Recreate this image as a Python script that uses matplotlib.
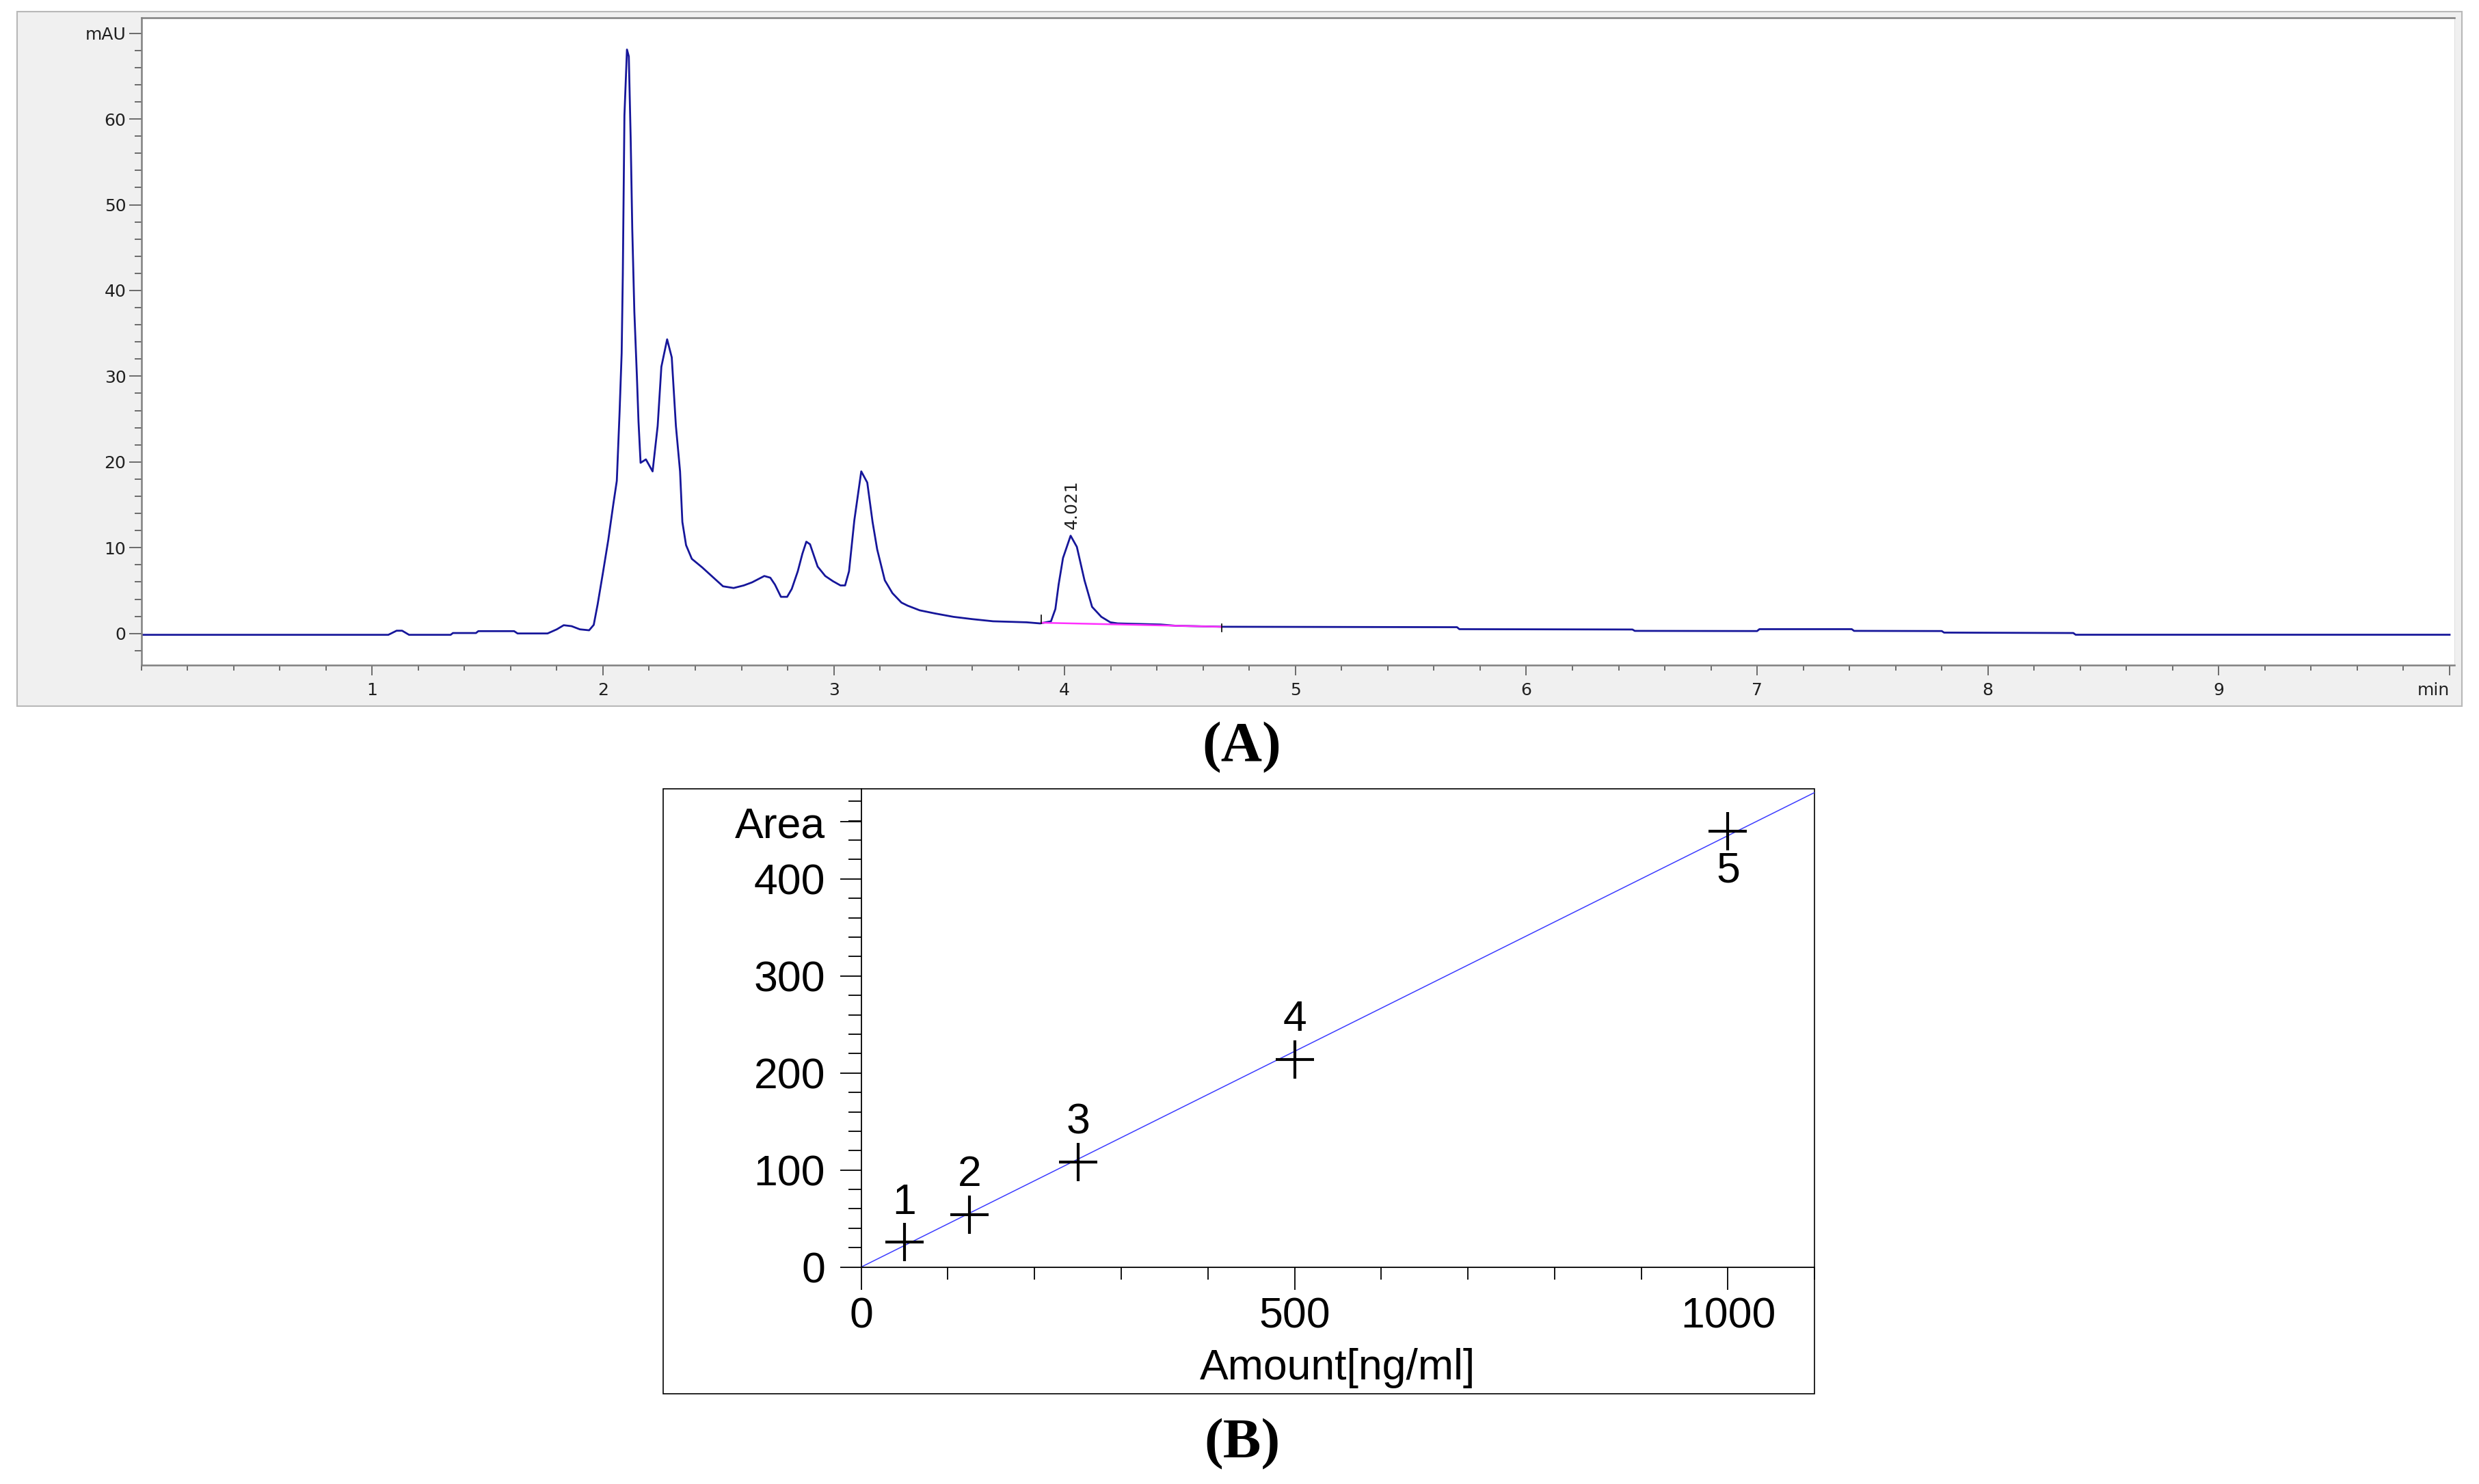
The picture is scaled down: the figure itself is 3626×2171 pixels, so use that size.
import numpy as np
import matplotlib
matplotlib.use("Agg")
import matplotlib.pyplot as plt
from matplotlib.patches import Rectangle
from matplotlib.ticker import MultipleLocator, FixedLocator

# chromatogram (A)
rt = [0.0, 1.07, 1.106, 1.13, 1.16, 1.34, 1.35, 1.45, 1.46, 1.615, 1.63, 1.76,
      1.80, 1.83, 1.864, 1.90, 1.94, 1.96, 1.977, 2.0, 2.023, 2.045, 2.06,
      2.072, 2.081, 2.086, 2.093, 2.104, 2.112, 2.12, 2.127, 2.136, 2.147,
      2.154, 2.163, 2.186, 2.215, 2.237, 2.253, 2.278, 2.298, 2.316, 2.334,
      2.344, 2.36, 2.385, 2.43, 2.475, 2.52, 2.566, 2.61, 2.646, 2.699, 2.725,
      2.745, 2.771, 2.798, 2.818, 2.844, 2.864, 2.881, 2.897, 2.93, 2.963,
      2.996, 3.029, 3.049, 3.066, 3.089, 3.119, 3.145, 3.168, 3.188, 3.221,
      3.254, 3.293, 3.32, 3.372, 3.439, 3.518, 3.597, 3.69, 3.835, 3.894,
      3.941, 3.96, 3.974, 3.993, 4.026, 4.053, 4.086, 4.119, 4.159, 4.198,
      4.23, 4.416, 4.48, 4.68, 5.70, 5.71, 6.46, 6.47, 7.0, 7.01, 7.41, 7.42,
      7.8, 7.81, 8.37, 8.38, 10.0]
mau = [-0.16, -0.16, 0.32, 0.32, -0.16, -0.16, 0.05, 0.05, 0.27, 0.27, 0.0, 0.0,
       0.48, 0.96, 0.85, 0.48, 0.37, 1.0, 3.4, 7.1, 10.9, 15.1, 17.8,
       25.8, 32.7, 41.8, 60.4, 68.1, 67.3, 57.8, 47.1, 37.5, 30.0,
       24.7, 19.9, 20.3, 18.9, 24.2, 31.1, 34.3, 32.2, 24.2, 18.9,
       13.0, 10.3, 8.7, 7.7, 6.6, 5.5, 5.3, 5.6, 5.96, 6.7, 6.5,
       5.7, 4.27, 4.27, 5.2, 7.25, 9.3, 10.7, 10.4, 7.8, 6.7,
       6.1, 5.6, 5.6, 7.25, 13.2, 18.9, 17.6, 13.0, 9.8, 6.2,
       4.7, 3.6, 3.24, 2.7, 2.33, 1.94, 1.68, 1.42, 1.3, 1.17,
       1.42, 2.85, 5.7, 8.8, 11.4, 10.1, 6.2, 3.1, 1.94, 1.3,
       1.17, 1.04, 0.9, 0.78, 0.73, 0.5, 0.46, 0.3, 0.28, 0.5, 0.5, 0.3,
       0.28, 0.1, 0.05, -0.15, -0.15]
peak_rt = 4.021
peak_label = "4.021"
base_x = [3.90, 4.68]
base_y = [1.25, 0.78]

# calibration (B)
amount = [50, 125, 250, 500, 1000]
area = [25.5, 54.3, 108.5, 214, 449.5]
level = ["1", "2", "3", "4", "5"]

W, H = 3626, 2171
fig = plt.figure(figsize=(W / 100, H / 100), dpi=100)

# ---- panel A: grey window with chromatogram ----
fig.patches.append(Rectangle((0.007, 0.524), 0.986, 0.468, transform=fig.transFigure,
                             facecolor="#f0f0f0", edgecolor="#b8b8b8", lw=1.5, zorder=-5))
axA = fig.add_axes([0.057, 0.552, 0.933, 0.436])
axA.plot(rt, mau, color="#16169a", lw=2.0)
axA.plot(base_x, base_y, color="#ff30ff", lw=1.8)
axA.plot([base_x[0]] * 2, [base_y[0] - 0.1, base_y[0] + 0.9], color="black", lw=1.2)
axA.plot([base_x[1]] * 2, [base_y[1] - 0.6, base_y[1] + 0.3], color="black", lw=1.2)
axA.text(peak_rt + 0.01, 12.2, peak_label, rotation=90, ha="center", va="bottom",
         fontsize=18, color="#202020")
axA.set_xlim(0, 10.02)
axA.set_ylim(-3.66, 71.8)

axA.xaxis.set_major_locator(FixedLocator(range(1, 11)))
axA.set_xticklabels([str(i) for i in range(1, 10)] + ["min"])
axA.get_xticklabels()[-1].set_horizontalalignment("right")
axA.xaxis.set_minor_locator(MultipleLocator(0.2))
axA.yaxis.set_major_locator(FixedLocator(range(0, 71, 10)))
axA.set_yticklabels([str(i) for i in range(0, 61, 10)] + ["mAU"])
axA.yaxis.set_minor_locator(MultipleLocator(2))
axA.tick_params(which="major", axis="x", length=11, width=1.3, color="#606060",
                labelsize=18, labelcolor="#202020", pad=7)
axA.tick_params(which="minor", axis="x", length=5.5, width=1.3, color="#606060")
axA.tick_params(which="major", axis="y", length=13, width=1.3, color="#606060",
                labelsize=18, labelcolor="#202020", pad=3)
axA.tick_params(which="minor", axis="y", length=7, width=1.3, color="#606060")
for s in ["left", "bottom", "top"]:
    axA.spines[s].set_color("#808080")
    axA.spines[s].set_linewidth(1.8)
axA.spines["right"].set_color("#e0e0e0")

fig.text(0.501, 0.496, "(A)", ha="center", va="center", fontsize=60,
         family="Liberation Serif", weight="bold")

# ---- panel B: calibration curve ----
fig.patches.append(Rectangle((0.2674, 0.061), 0.4646, 0.4075, transform=fig.transFigure,
                             facecolor="white", edgecolor="black", lw=1.2, zorder=-5))
axB = fig.add_axes([0.3474, 0.1462, 0.3846, 0.3223])
axB.patch.set_alpha(0)
slope = np.sum(np.array(amount) * np.array(area)) / np.sum(np.array(amount) ** 2)
xfit = np.array([0, 1100])
axB.plot(xfit, slope * xfit, color="#3c3cff", lw=1.1)
axB.plot(amount, area, ls="none", marker="+", ms=40, mew=3, color="black")
for a, b, lab in zip(amount, area, level):
    if lab == "5":
        axB.text(a, b - 20, lab, ha="center", va="top", fontsize=45, family="Liberation Sans")
    else:
        axB.text(a, b + 20, lab, ha="center", va="bottom", fontsize=45, family="Liberation Sans")
axB.set_xlim(0, 1100)
axB.set_ylim(0, 493)
axB.xaxis.set_major_locator(FixedLocator([0, 500, 1000]))
axB.xaxis.set_minor_locator(FixedLocator([100, 200, 300, 400, 600, 700, 800, 900, 1100]))
axB.yaxis.set_major_locator(FixedLocator([0, 100, 200, 300, 400, 459]))
axB.set_yticklabels(["0", "100", "200", "300", "400", "Area"])
axB.yaxis.set_minor_locator(FixedLocator([y for y in range(20, 493, 20) if y % 100]))
axB.tick_params(which="major", axis="x", length=24, width=1.3, labelsize=45, pad=7)
axB.tick_params(which="minor", axis="x", length=13, width=1.3)
axB.tick_params(which="major", axis="y", length=22, width=1.3, labelsize=45, pad=16)
axB.tick_params(which="minor", axis="y", length=14, width=1.3)
for lab in axB.get_xticklabels() + axB.get_yticklabels():
    lab.set_family("Liberation Sans")
axB.spines["top"].set_visible(False)
axB.spines["right"].set_visible(False)
axB.spines["left"].set_linewidth(1.3)
axB.spines["bottom"].set_linewidth(1.3)
axB.set_xlabel("Amount[ng/ml]", fontsize=45, family="Liberation Sans", labelpad=12)

fig.text(0.501, 0.027, "(B)", ha="center", va="center", fontsize=60,
         family="Liberation Serif", weight="bold")

fig.savefig("out.png", dpi=100)
